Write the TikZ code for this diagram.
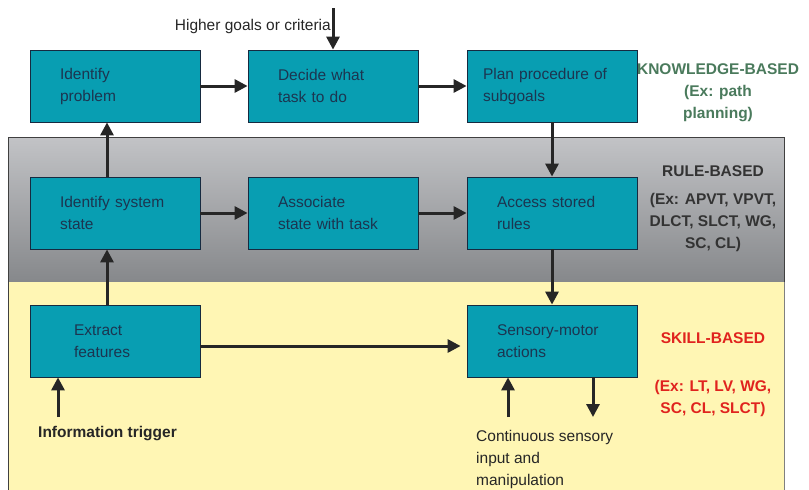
\documentclass[tikz,border=0pt]{standalone}
\usepackage{fontspec}
\setmainfont{Liberation Sans}
\usetikzlibrary{arrows.meta}
\definecolor{boxfill}{HTML}{089EB2}
\definecolor{boxtext}{HTML}{1C3550}
\definecolor{bandtop}{HTML}{C2C3C6}
\definecolor{bandbot}{HTML}{86888B}
\definecolor{skillbg}{HTML}{FFF6B4}
\definecolor{knowgreen}{HTML}{4A7A5C}
\definecolor{ruledark}{HTML}{333333}
\definecolor{skillred}{HTML}{E0231E}
\tikzset{
  stage/.style={draw=boxtext!80!black, line width=0.8pt, fill=boxfill, text=boxtext,
    minimum width=170pt, minimum height=72pt, inner ysep=0pt, inner xsep=30pt,
    text width=110pt, align=left, font=\fontsize{15.5}{22}\selectfont},
  arr/.style={line width=3pt, draw=black!85, -{Triangle[length=13pt,width=13pt]}},
  levelname/.style={font=\fontsize{15.5}{22}\selectfont\bfseries, align=center},
  plain/.style={font=\fontsize{15.5}{22}\selectfont, align=left, text=black!85}
}
\begin{document}
\begin{tikzpicture}[x=1pt,y=-1pt]
\useasboundingbox (0,0) rectangle (809,490);

% bands
\shade[top color=bandtop, bottom color=bandbot, draw=black!75, line width=0.8pt] (8,137) rectangle (784,282);
\fill[skillbg] (8,282) rectangle (784,495);
\draw[black!75, line width=0.8pt] (8,282) -- (8,495);
\draw[black!50, line width=0.8pt] (784,282) -- (784,495);

%-------------------------------------
\node[stage] (prob) at (115,86) {Identify\\problem};
\node[stage] (decide) at (333,86) {Decide what\\task to do};
\node[stage, inner xsep=16pt, text width=138pt] (plan) at (552,86) {Plan procedure of\\subgoals};

\node[stage] (sys) at (115,213) {Identify system\\state};
\node[stage] (assoc) at (333,213) {Associate\\state with task};
\node[stage] (access) at (552,213) {Access stored\\rules};

\node[stage, inner xsep=44pt, text width=82pt] (extract) at (115,341) {Extract\\features};
\node[stage] (sensory) at (552,341) {Sensory-motor\\actions};

%-------------------------------------
\coordinate (goal) at (333,8);
\node[plain, anchor=east, inner sep=0pt] (goaltxt) at (331,26) {Higher goals or criteria};
\draw[arr] (goal) -- (goal |- decide.north);

\draw[arr] (prob) -- (decide);
\draw[arr] (decide) -- (plan);
\draw[arr] (plan) -- (access);
\draw[arr] (sys) -- (assoc);
\draw[arr] (assoc) -- (access);
\draw[arr] (access) -- (sensory);
\draw[arr] ([xshift=-8pt]sys.north) -- ([xshift=-8pt]prob.south);
\draw[arr] ([xshift=-8pt]extract.north) -- ([xshift=-8pt]sys.south);
\draw[arr] ([yshift=-5pt]extract.east) -- ([yshift=-5pt,xshift=-6pt]sensory.west);

\coordinate (trig) at (58,417);
\draw[arr] (trig) -- (trig |- extract.south);
\node[plain, anchor=west, inner sep=0pt, font=\fontsize{15.5}{22}\selectfont\bfseries] (trigtxt) at (38,434) {Information trigger};

\coordinate (contin) at (508,417);
\coordinate (contout) at (593,417);
\draw[arr] (contin) -- (contin |- sensory.south);
\draw[arr] (contout |- sensory.south) -- (contout);
\node[plain, anchor=west, inner sep=0pt] (conttxt) at (476,459) {Continuous sensory\\input and\\manipulation};

%-------------------------------------
\node[levelname, text=knowgreen] (know) at (718,93) {KNOWLEDGE-BASED\\(Ex: path\\planning)};
\node[levelname, text=ruledark] (rule) at (713,171) {RULE-BASED};
\node[levelname, text=ruledark] (ruleex) at (713,222) {(Ex: APVT, VPVT,\\DLCT, SLCT, WG,\\SC, CL)};
\node[levelname, text=skillred] (skill) at (713,338) {SKILL-BASED};
\node[levelname, text=skillred] (skillex) at (713,398) {(Ex: LT, LV, WG,\\SC, CL, SLCT)};
\end{tikzpicture}
\end{document}
